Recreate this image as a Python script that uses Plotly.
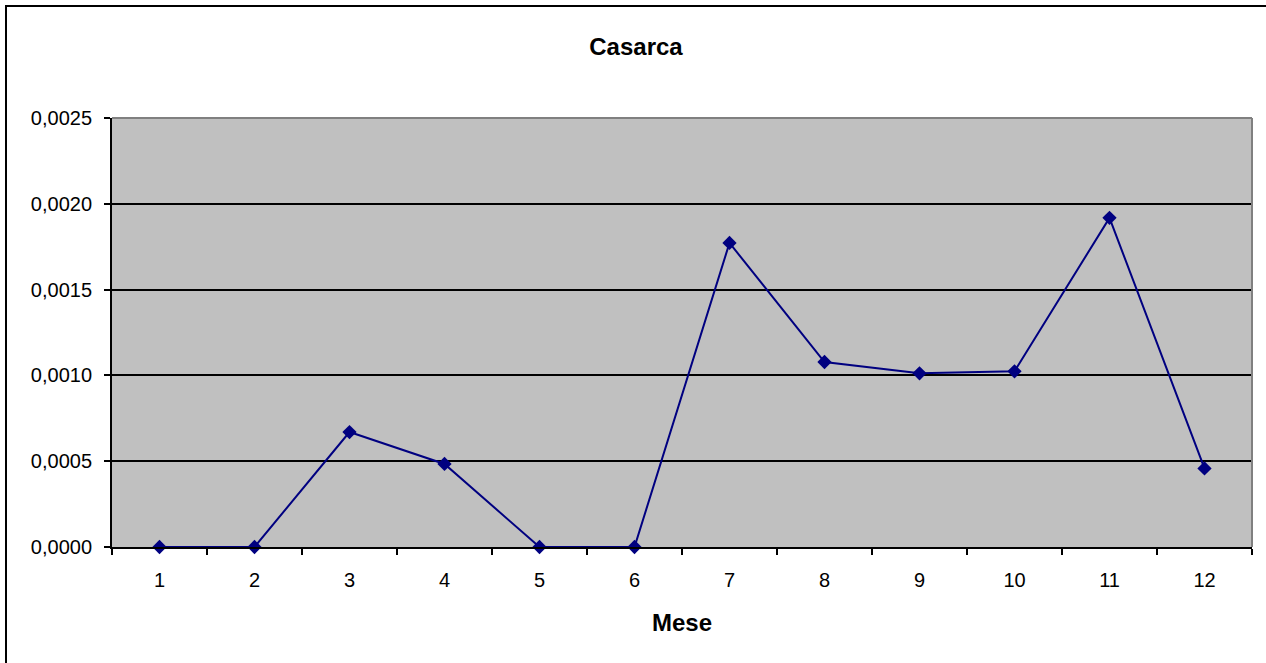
import plotly.graph_objects as go

months = ["1", "2", "3", "4", "5", "6", "7", "8", "9", "10", "11", "12"]
values = [0.0, 0.0, 0.00067, 0.000484, 0.0, 0.0, 0.001772, 0.001078, 0.001012, 0.001024, 0.001918, 0.000458]
y_ticks = [0.0, 0.0005, 0.0010, 0.0015, 0.0020, 0.0025]

fig = go.Figure()
fig.add_trace(go.Scatter(
    x=months, y=values, mode="lines+markers",
    line=dict(color="#000080", width=2),
    marker=dict(symbol="diamond", size=11, color="#000080"),
    showlegend=False, cliponaxis=False,
))

fig.update_layout(
    width=1266, height=663,
    margin=dict(l=112, r=14, t=118, b=116),
    paper_bgcolor="white",
    plot_bgcolor="#C0C0C0",
    separators=",.",
    font=dict(family="Liberation Sans, Arial, sans-serif", size=20, color="black"),
    title=dict(text="<b>Casarca</b>", x=636/1266, xanchor="center", y=1-47/663, yanchor="middle",
               font=dict(size=24, color="black")),
    xaxis=dict(
        type="category", tickson="boundaries", ticks="outside", ticklen=6, tickcolor="black",
        tickwidth=1.5, ticklabelstandoff=14,
        showline=True, linecolor="black", linewidth=2, showgrid=False, mirror=False,
        title=dict(text="<b>Mese</b>", font=dict(size=24), standoff=24),
        range=[-0.5, 11.5],
    ),
    yaxis=dict(
        range=[0, 0.0025], tickvals=y_ticks, tickformat=".4f",
        ticks="outside", ticklen=6, tickcolor="black", tickwidth=1.5, ticklabelstandoff=8,
        showline=True, linecolor="black", linewidth=2,
        showgrid=True, gridcolor="black", gridwidth=1.5, zeroline=False,
    ),
    shapes=[
        dict(type="line", xref="paper", yref="paper", x0=0, x1=1, y0=1, y1=1,
             line=dict(color="#808080", width=2), layer="above"),
        dict(type="line", xref="paper", yref="paper", x0=1, x1=1, y0=0, y1=1,
             line=dict(color="#808080", width=2), layer="above"),
        dict(type="rect", xref="x domain", yref="y domain",
             x0=-106/1140, x1=1.05, y0=-1.3, y1=541/429,
             line=dict(color="black", width=2), fillcolor="rgba(0,0,0,0)", layer="above"),
    ],
)

fig.write_html("out.html", config={"displayModeBar": False},
               post_script="document.body.style.margin='0';document.body.style.overflow='hidden';")
